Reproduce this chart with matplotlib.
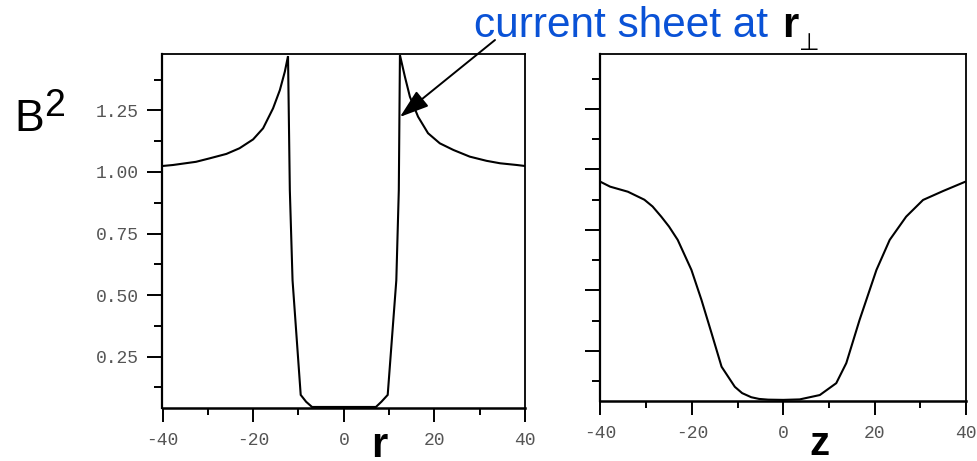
import matplotlib
matplotlib.use("Agg")
import matplotlib.pyplot as plt
import numpy as np

# ---- data ----
r_vals = [-40, -37.7, -32.6, -29.6, -25.9, -23.0, -20.0, -17.8, -15.6, -14.1, -13.0, -12.3,
          -11.9, -11.3, -9.5, -8.3, -7.0,
          7.1, 8.3, 9.7, 11.6, 12.15, 12.4,
          13.5, 14.6, 16.4, 18.6, 21.2, 24.2, 27.8, 31.5, 34.5, 38.2, 40]
b2_r = [1.024, 1.028, 1.041, 1.055, 1.073, 1.096, 1.132, 1.177, 1.258, 1.332, 1.407, 1.470,
        0.926, 0.560, 0.095, 0.067, 0.046,
        0.046, 0.067, 0.095, 0.560, 0.926, 1.474,
        1.386, 1.305, 1.224, 1.157, 1.116, 1.089, 1.062, 1.045, 1.035, 1.028, 1.024]

z_vals = [-40, -37.9, -34.0, -30.4, -28.6, -26.7, -25.0, -23.1, -20.1, -17.9,
          -15.7, -13.5, -10.6, -9.0, -7.0, -5.3, -3.3,
          0, 3.6, 8.0, 11.6, 13.8, 16.7, 20.4, 23.3, 26.9, 30.6, 35.0, 39.8]
b2_z = [0.949, 0.929, 0.908, 0.875, 0.847, 0.805, 0.764, 0.709, 0.585, 0.461,
        0.324, 0.185, 0.102, 0.076, 0.059, 0.052, 0.049,
        0.048, 0.050, 0.068, 0.117, 0.200, 0.378, 0.585, 0.709, 0.805, 0.874, 0.911, 0.949]

x_major = [-40, -20, 0, 20, 40]
x_minor = [-30, -10, 10, 30]
y_major = [0.25, 0.50, 0.75, 1.00, 1.25]
y_minor = [0.125, 0.375, 0.625, 0.875, 1.125, 1.375]
y_labels = ["0.25", "0.50", "0.75", "1.00", "1.25"]
x_labels = ["-40", "-20", "0", "20", "40"]

W, H = 978, 461
fig = plt.figure(figsize=(W / 100, H / 100), dpi=100)

def px(x, y):
    return (x / W, 1 - y / H)

def rect(x0, y0, x1, y1):
    return [x0 / W, 1 - y1 / H, (x1 - x0) / W, (y1 - y0) / H]

axL = fig.add_axes(rect(162.5, 54, 525, 408))
axR = fig.add_axes(rect(600.5, 54, 966, 401))

tickfont = dict(family="Liberation Mono", size=13)
tick_color = "#555555"

for ax in (axL, axR):
    for s in ax.spines.values():
        s.set_linewidth(1.3)
    ax.spines["left"].set_linewidth(1.6)
    ax.spines["bottom"].set_linewidth(1.8)
    ax.set_xlim(-40, 40)
    ax.set_xticks(x_major)
    ax.set_xticks(x_minor, minor=True)
    ax.set_yticks(y_major)
    ax.set_yticks(y_minor, minor=True)
    ax.tick_params(axis="both", which="major", direction="out", width=1.4,
                   colors="black", labelcolor=tick_color)
    ax.tick_params(axis="both", which="minor", direction="out", width=1.4)
    ax.tick_params(axis="y", which="major", length=10.8, pad=6)
    ax.tick_params(axis="y", which="minor", length=5.8)
    ax.tick_params(axis="x", which="major", length=10, pad=7)
    ax.tick_params(axis="x", which="minor", length=5)
    ax.tick_params(top=False, right=False)
    ax.set_xticklabels(x_labels, fontdict=tickfont)

axL.set_ylim(0.0418, 1.4785)
axR.set_ylim(0.0434, 1.477)
axL.set_yticklabels(y_labels, fontdict=tickfont)
axR.set_yticklabels([])

axL.plot(r_vals, b2_r, color="black", lw=1.5, solid_joinstyle="miter")
axR.plot(z_vals, b2_z, color="black", lw=1.5, solid_joinstyle="round")

# axis labels
big = "Liberation Sans"
fig.text(*px(14, 131), "B", fontsize=32, family=big, va="baseline", ha="left")
fig.text(*px(44, 116), "2", fontsize=27, family=big, va="baseline", ha="left")
fig.text(*px(371, 457), "r", fontsize=30, family=big, fontweight="bold",
         va="baseline", ha="left")
fig.text(*px(809, 455), "z", fontsize=29, family=big, fontweight="bold",
         va="baseline", ha="left")

# annotation
fig.text(*px(474, 37), "current sheet at", fontsize=30.5, family=big,
         color="#0a52d6", va="baseline", ha="left")
fig.text(*px(782, 37), "r", fontsize=30, family=big, fontweight="bold",
         color="black", va="baseline", ha="left")
fig.text(*px(799, 50), "\u22a5", fontsize=17, family=["DejaVu Sans"],
         color="black", va="baseline", ha="left")

axL.annotate("", xy=(12.4, 1.223), xycoords="data",
             xytext=px(495, 40), textcoords="figure fraction",
             arrowprops=dict(arrowstyle="-|>,head_length=0.9,head_width=0.3",
                             color="black", lw=1.4, mutation_scale=20,
                             shrinkA=0, shrinkB=0),
             annotation_clip=False)

fig.savefig("out.png", dpi=100)
